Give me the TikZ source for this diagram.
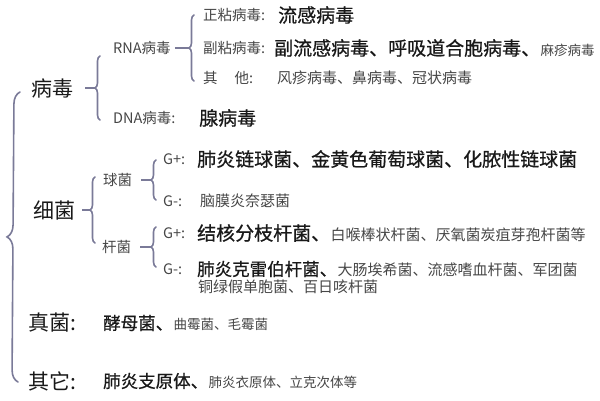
\documentclass[tikz,border=0pt]{standalone}
\usepackage{fontspec}
\setmainfont{Noto Sans CJK SC}
\newfontfamily\medfont[FakeBold=0.7]{Noto Sans CJK SC}
\usetikzlibrary{decorations.pathreplacing}
\definecolor{bracecol}{RGB}{122,122,152}
\definecolor{ink}{RGB}{25,25,25}
\definecolor{greyink}{RGB}{70,70,70}
\begin{document}
\begin{tikzpicture}[x=1pt, y=-1pt,
  lbl/.style={anchor=west, inner sep=0pt, text=ink},
  huge/.style={lbl, font=\fontsize{21}{24}\selectfont},
  big/.style={lbl, font=\medfont\fontsize{19}{22}\selectfont},
  bigs/.style={lbl, font=\medfont\fontsize{17.5}{20}\selectfont},
  mid/.style={lbl, font=\fontsize{14.5}{17}\selectfont, text=greyink},
  sml/.style={lbl, font=\fontsize{15}{17}\selectfont, text=greyink},
  tny/.style={lbl, font=\fontsize{13.5}{16}\selectfont, text=greyink},
  brc/.style={draw=bracecol, line width=1.6pt, line cap=round, decorate, decoration={brace, amplitude=5pt}},
  bigbrc/.style={brc, decoration={brace, amplitude=12pt}},
  tick/.style={draw=bracecol, line width=1.6pt}]
\useasboundingbox (0,0) rectangle (600,400);
% viruses
\node[huge] (virus) at (31, 88) {病毒};
\node[mid] (rna) at (113, 48) {RNA病毒};
\node[mid] (dna) at (113, 118) {DNA病毒:};
\node[big] (adeno) at (199, 118) {腺病毒};
\node[mid] (ortho) at (203, 15) {正粘病毒:};
\node[big] (flu) at (278, 15) {流感病毒};
\node[mid] (para) at (203, 48) {副粘病毒:};
\node[big] (paraflu) at (274, 48) {副流感病毒、呼吸道合胞病毒、};
\node[tny, anchor=base west] (measles) at (paraflu.base east) {麻疹病毒};
\node[mid] (other) at (203, 78) {其\hspace{17pt}他:};
\node[sml] (rubella) at (277, 78) {风疹病毒、鼻病毒、冠状病毒};
% bacteria
\node[huge] (bact) at (33, 210) {细菌};
\node[mid] (cocci) at (103, 180) {球菌};
\node[mid] (bacilli) at (102, 247) {杆菌};
\node[mid] (cpos) at (163, 159) {G+:};
\node[big] (cposx) at (197, 159) {肺炎链球菌、金黄色葡萄球菌、化脓性链球菌};
\node[mid] (cneg) at (163, 201) {G-:};
\node[sml] (cnegx) at (200, 201) {脑膜炎奈瑟菌};
\node[mid] (bpos) at (163, 233) {G+:};
\node[big] (bposx) at (197, 233) {结核分枝杆菌、};
\node[sml, anchor=base west] (bposy) at (bposx.base east) {白喉棒状杆菌、厌氧菌炭疽芽孢杆菌等};
\node[mid] (bneg) at (163, 269) {G-:};
\node[bigs] (bnegx) at (197, 269) {肺炎克雷伯杆菌、};
\node[sml, anchor=base west] (bnegy) at (bnegx.base east) {大肠埃希菌、流感嗜血杆菌、军团菌};
\node[sml] (bnegz) at (198, 287) {铜绿假单胞菌、百日咳杆菌};
% fungi and others
\node[huge] (fungi) at (28, 323) {真菌:};
\node[bigs] (yeast) at (103, 323) {酵母菌、};
\node[tny, anchor=base west] (mould) at (yeast.base east) {曲霉菌、毛霉菌};
\node[huge] (others) at (28, 381) {其它:};
\node[bigs] (myco) at (103, 381) {肺炎支原体、};
\node[tny, anchor=base west] (chlam) at (myco.base east) {肺炎衣原体、立克次体等};
% braces
\coordinate (allTop) at (20, 92);
\coordinate (allBot) at (18, 382);
\coordinate (vTop) at (100, 56);
\coordinate (vBot) at (100, 120);
\coordinate (vTip) at (95, 88);
\coordinate (rTop) at (194, 15);
\coordinate (rBot) at (194, 81);
\coordinate (rTip) at (189, 48);
\coordinate (bTop) at (95, 177);
\coordinate (bBot) at (95, 243);
\coordinate (bTip) at (90, 210);
\coordinate (cTop) at (156, 160);
\coordinate (cBot) at (156, 200);
\coordinate (cTip) at (151, 180);
\coordinate (kTop) at (156, 227);
\coordinate (kBot) at (156, 267);
\coordinate (kTip) at (151, 247);
\draw[bigbrc] (allBot) -- (allTop);
\draw[brc] (vBot) -- (vTop);
\draw[brc] (rBot) -- (rTop);
\draw[brc] (bBot) -- (bTop);
\draw[brc] (cBot) -- (cTop);
\draw[brc] (kBot) -- (kTop);
\draw[tick, shorten <=12pt] (virus) -- (vTip);
\draw[tick, shorten <=4pt] (rna) -- (rTip);
\draw[tick, shorten <=7pt] (bact) -- (bTip);
\draw[tick, shorten <=9pt] (cocci) -- (cTip);
\draw[tick, shorten <=9pt] (bacilli) -- (kTip);
\end{tikzpicture}
\end{document}
